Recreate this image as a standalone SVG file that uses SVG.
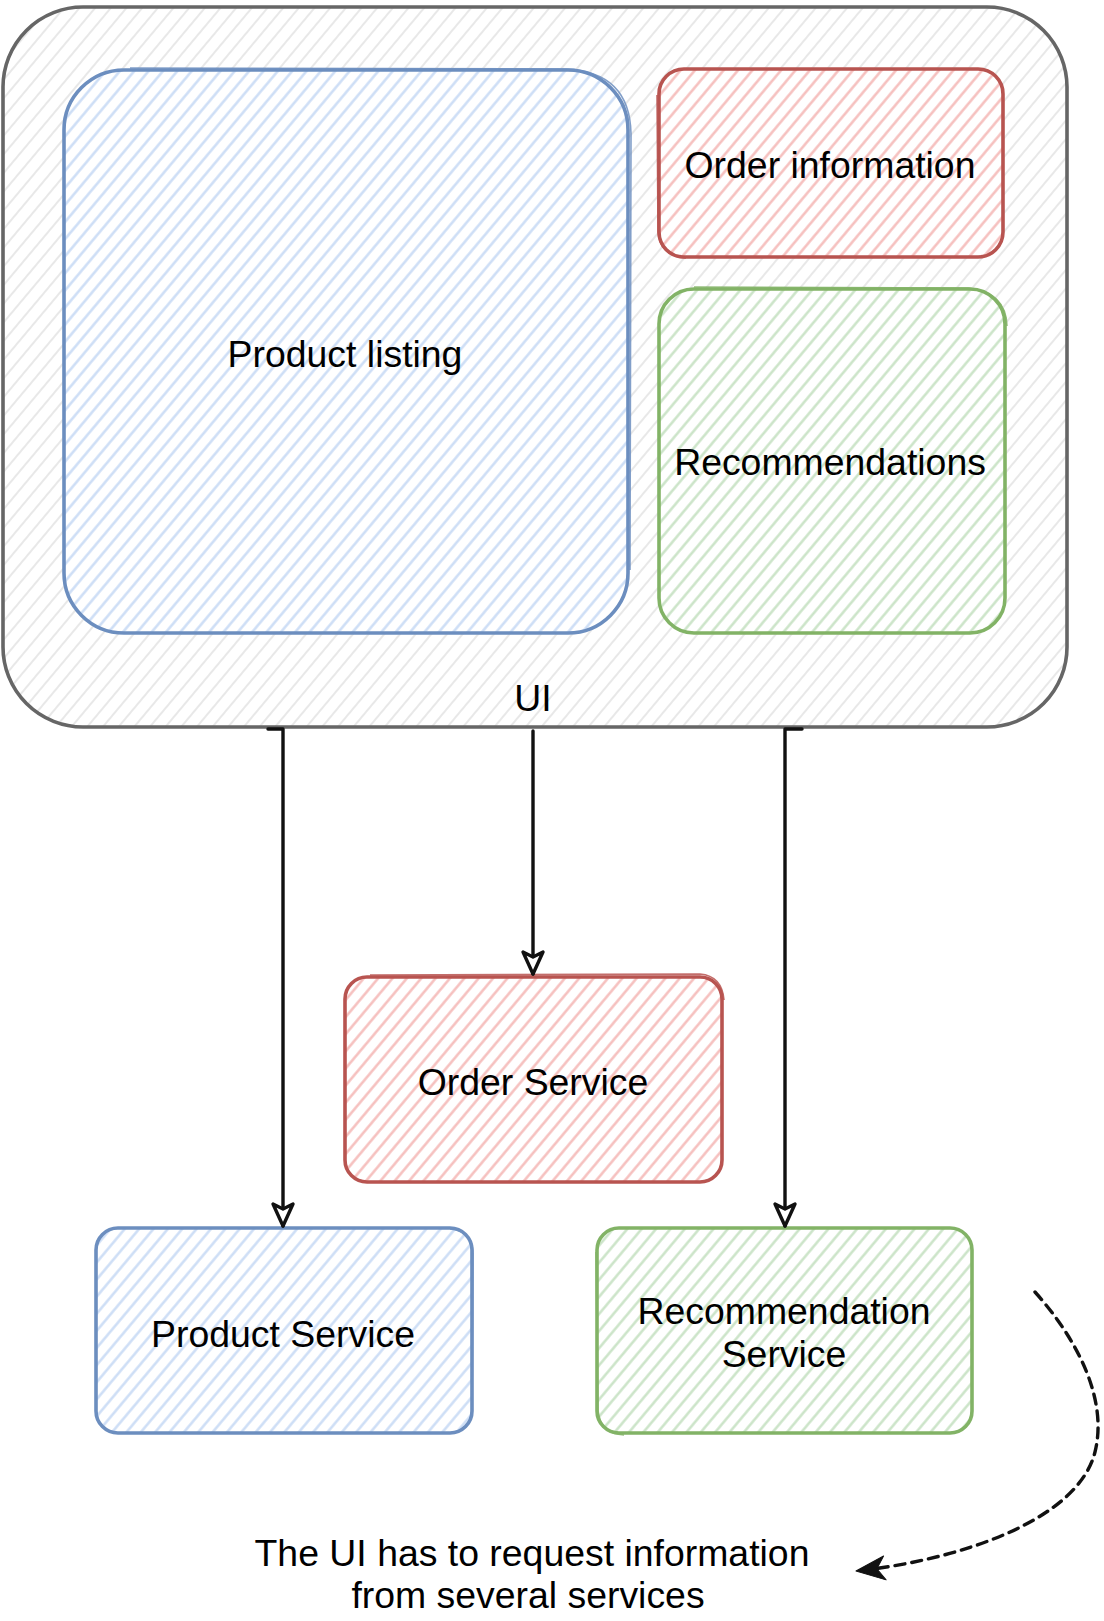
<svg xmlns="http://www.w3.org/2000/svg" width="1104" height="1621" viewBox="0 0 1104 1621">
<style>
.lbl{font-family:"Liberation Sans",Arial,Helvetica,sans-serif;font-size:37.4px;fill:#000;text-anchor:middle}
.box{stroke-width:3.6;stroke-linejoin:round}
.sk{fill:none;stroke-width:1.6;opacity:0.85}
.conn{fill:none;stroke:#111;stroke-width:3.4;stroke-linecap:round;stroke-linejoin:round}
</style>
<defs>
<pattern id="hGray" patternUnits="userSpaceOnUse" width="12" height="12" patternTransform="rotate(40)"><line x1="6" y1="-1" x2="6" y2="13" stroke="#e8e8e8" stroke-width="2"/></pattern>
<pattern id="hBlue" patternUnits="userSpaceOnUse" width="11" height="11" patternTransform="rotate(40)"><line x1="5.5" y1="-1" x2="5.5" y2="12" stroke="#cadcf5" stroke-width="2.4"/></pattern>
<pattern id="hRed" patternUnits="userSpaceOnUse" width="11" height="11" patternTransform="rotate(40)"><line x1="5.5" y1="-1" x2="5.5" y2="12" stroke="#f5bcba" stroke-width="2.4"/></pattern>
<pattern id="hGreen" patternUnits="userSpaceOnUse" width="11" height="11" patternTransform="rotate(40)"><line x1="5.5" y1="-1" x2="5.5" y2="12" stroke="#c8e2c5" stroke-width="2.4"/></pattern>
<marker id="openArrow" markerUnits="userSpaceOnUse" markerWidth="26" markerHeight="24" viewBox="0 0 26 24" refX="24" refY="12" orient="auto" overflow="visible">
<path d="M 2 2 L 24 12 L 2 22 L 7 12 Z" fill="#fff" stroke="#111" stroke-width="3.4" stroke-linejoin="round"/>
</marker>
<marker id="fillArrow" markerUnits="userSpaceOnUse" markerWidth="30" markerHeight="26" viewBox="0 0 30 26" refX="29" refY="13" orient="auto" overflow="visible">
<path d="M 0 1 L 29 13 L 0 25 L 8 13 Z" fill="#111" stroke="#111" stroke-width="1" stroke-linejoin="round"/>
</marker>
</defs>

<rect x="0" y="0" width="1104" height="1621" fill="#fff"/>

<g id="ui">
<rect x="3" y="7" width="1064" height="720" rx="80" fill="#fff"/>
<rect class="box" x="3" y="7" width="1064" height="720" rx="80" fill="url(#hGray)" stroke="#666666" stroke-width="4"/>
<text class="lbl" x="533" y="711">UI</text>
</g>

<g id="product-listing">
<rect x="64" y="70" width="564" height="563" rx="60" fill="#fff"/>
<rect class="box" x="64" y="70" width="564" height="563" rx="60" fill="url(#hBlue)" stroke="#6c8ebf"/>
<path class="sk" stroke="#6c8ebf" d="M 130 68 L 566 69 Q 630 72 631 134 L 630 570"/>
<text class="lbl" x="345" y="367">Product listing</text>
</g>

<g id="order-information">
<rect x="659" y="69" width="344" height="188" rx="25" fill="#fff"/>
<rect class="box" x="659" y="69" width="344" height="188" rx="25" fill="url(#hRed)" stroke="#b85450"/>
<path class="sk" stroke="#b85450" d="M 657 95 L 658 232 Q 660 256 686 258"/>
<text class="lbl" x="830" y="178">Order information</text>
</g>

<g id="recommendations">
<rect x="659" y="289" width="346" height="344" rx="35" fill="#fff"/>
<rect class="box" x="659" y="289" width="346" height="344" rx="35" fill="url(#hGreen)" stroke="#82b366"/>
<path class="sk" stroke="#82b366" d="M 694 287 L 968 288 Q 1006 292 1007 326"/>
<text class="lbl" x="830" y="475">Recommendations</text>
</g>

<g id="order-service">
<rect x="345" y="977" width="377" height="205" rx="22" fill="#fff"/>
<rect class="box" x="345" y="977" width="377" height="205" rx="22" fill="url(#hRed)" stroke="#b85450"/>
<path class="sk" stroke="#b85450" d="M 370 975 L 700 974 Q 722 976 724 1000"/>
<text class="lbl" x="533" y="1095">Order Service</text>
</g>

<g id="product-service">
<rect x="96" y="1228" width="376" height="205" rx="22" fill="#fff"/>
<rect class="box" x="96" y="1228" width="376" height="205" rx="22" fill="url(#hBlue)" stroke="#6c8ebf"/>
<path class="sk" stroke="#6c8ebf" d="M 450 1229 Q 474 1231 473 1256 L 472 1410"/>
<text class="lbl" x="283" y="1347">Product Service</text>
</g>

<g id="recommendation-service">
<rect x="597" y="1228" width="375" height="205" rx="22" fill="#fff"/>
<rect class="box" x="597" y="1228" width="375" height="205" rx="22" fill="url(#hGreen)" stroke="#82b366"/>
<path class="sk" stroke="#82b366" d="M 596 1252 L 598 1410 Q 600 1434 624 1435"/>
<text class="lbl" x="784" y="1324">Recommendation</text>
<text class="lbl" x="784" y="1367">Service</text>
</g>

<g id="connectors">
<path class="conn" d="M 268 729 L 283 729 L 283 1226" marker-end="url(#openArrow)"/>
<path class="conn" d="M 533 731 L 533 974" marker-end="url(#openArrow)"/>
<path class="conn" d="M 802 729 L 785 729 L 785 1226" marker-end="url(#openArrow)"/>
<path class="conn" stroke-dasharray="10 7" stroke-linecap="butt" d="M 1035 1292 C 1078 1340, 1108 1400, 1095 1452 C 1078 1520, 960 1560, 856 1571" marker-end="url(#fillArrow)"/>
</g>

<g id="note">
<text class="lbl" x="532" y="1566">The UI has to request information</text>
<text class="lbl" x="528" y="1608">from several services</text>
</g>
</svg>
